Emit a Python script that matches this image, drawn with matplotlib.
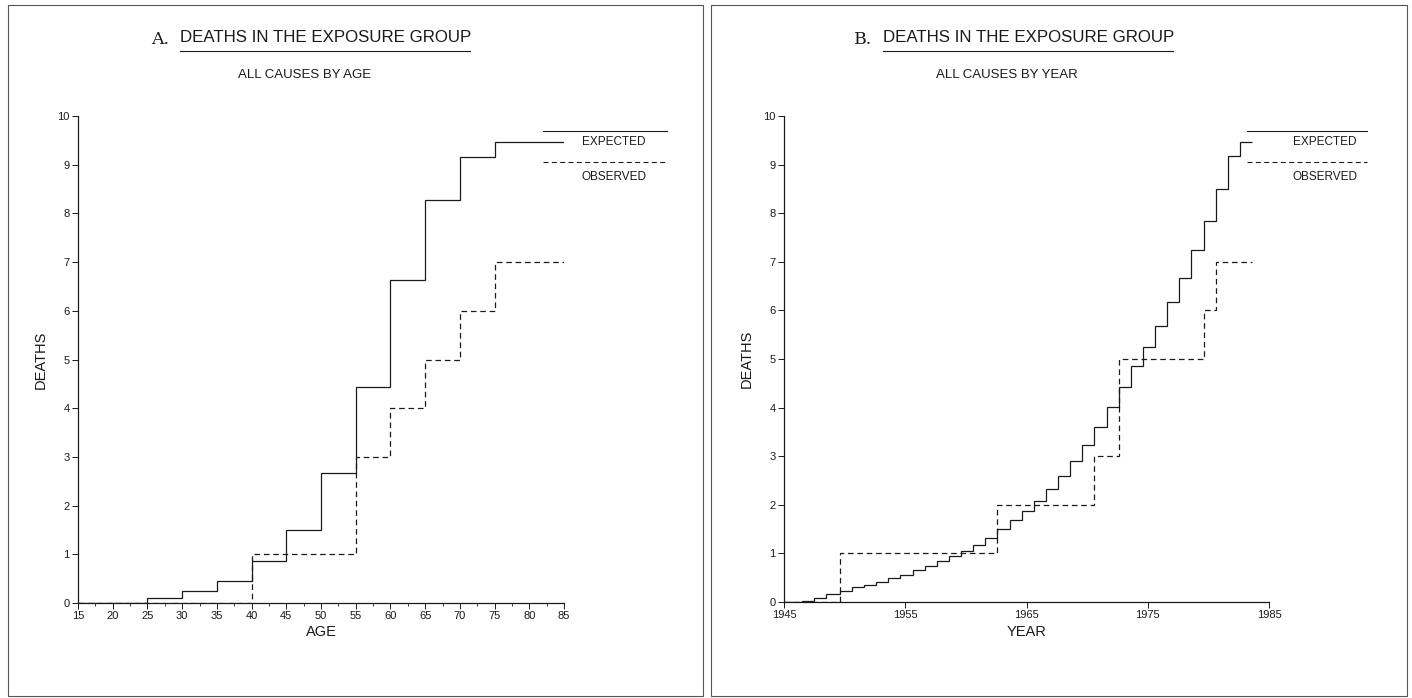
import matplotlib
matplotlib.use("Agg")
import matplotlib.pyplot as plt
from matplotlib.lines import Line2D
from matplotlib.patches import Rectangle
from matplotlib.ticker import MultipleLocator

# panel A: cumulative deaths by age
age_edges = [15, 25, 30, 35, 40, 45, 50, 55, 60, 65, 70, 75, 85]
expected_age = [0, 0.11, 0.25, 0.46, 0.86, 1.50, 2.66, 4.43, 6.64, 8.27, 9.15, 9.47]
observed_age = [0, 0, 0, 0, 1, 1, 1, 3, 4, 5, 6, 7]

# panel B: cumulative deaths by calendar year
year_edges = [1945, 1946.5, 1947.5, 1948.5, 1949.6, 1950.6, 1951.6, 1952.6,
              1953.6, 1954.6, 1955.6, 1956.6, 1957.6, 1958.6, 1959.6, 1960.6,
              1961.6, 1962.6, 1963.6, 1964.6, 1965.6, 1966.6, 1967.6, 1968.6,
              1969.6, 1970.6, 1971.6, 1972.6, 1973.6, 1974.6, 1975.6, 1976.6,
              1977.6, 1978.6, 1979.6, 1980.6, 1981.6, 1982.6, 1983.6]
expected_year = [0, 0.02, 0.08, 0.165, 0.23, 0.30, 0.36, 0.42, 0.50, 0.56,
                 0.65, 0.74, 0.84, 0.94, 1.04, 1.18, 1.32, 1.50, 1.68, 1.87,
                 2.08, 2.33, 2.60, 2.90, 3.24, 3.61, 4.01, 4.42, 4.85, 5.25,
                 5.68, 6.17, 6.67, 7.25, 7.84, 8.50, 9.17, 9.47]
obs_year_edges = [1945, 1949.6, 1962.6, 1970.6, 1972.6, 1979.6, 1980.6, 1983.6]
observed_year = [0, 1, 2, 3, 5, 6, 7]

age_ticks = [15, 20, 25, 30, 35, 40, 45, 50, 55, 60, 65, 70, 75, 80, 85]
year_ticks = [1945, 1955, 1965, 1975, 1985]
y_ticks = list(range(0, 11))

plt.rcParams["font.family"] = ["Liberation Sans", "DejaVu Sans"]
INK = "#1a1a1a"
DASH = (0, (4.5, 3))

fig = plt.figure(figsize=(14.12, 6.98), dpi=100)
W, H = 1412, 698


def fx(px):
    return px / W


def fy(py):
    return 1 - py / H


def setup(ax, xlim, xticks, xlabel):
    ax.set_xlim(*xlim)
    ax.set_ylim(0, 10)
    for s in ["top", "right"]:
        ax.spines[s].set_visible(False)
    for s in ["left", "bottom"]:
        ax.spines[s].set_linewidth(0.9)
        ax.spines[s].set_color(INK)
    ax.set_xticks(xticks)
    ax.set_yticks(y_ticks)
    ax.tick_params(axis="both", length=4, width=0.7, color=INK,
                   labelsize=8, labelcolor=INK, pad=2)
    ax.set_xlabel(xlabel, fontsize=10.5, color=INK, labelpad=3)
    ax.set_ylabel("DEATHS", fontsize=10.5, color=INK, labelpad=7)
    ax.patch.set_alpha(0)


def legend(ax, x0, x1, xt):
    ax.add_line(Line2D([x0, x1], [0.970, 0.970], transform=ax.transAxes,
                       color=INK, lw=0.8, clip_on=False))
    ax.text(xt, 0.946, "EXPECTED", transform=ax.transAxes, ha="center",
            va="center", fontsize=8.5, color=INK)
    ax.add_line(Line2D([x0, x1], [0.905, 0.905], transform=ax.transAxes,
                       color=INK, lw=0.8, ls=DASH, clip_on=False))
    ax.text(xt, 0.874, "OBSERVED", transform=ax.transAxes, ha="center",
            va="center", fontsize=8.5, color=INK)


# panel frames
for x0, x1 in [(8, 703), (711, 1407)]:
    fig.add_artist(Rectangle((fx(x0), fy(696)), fx(x1) - fx(x0), fy(5) - fy(696),
                             transform=fig.transFigure, fill=False,
                             lw=0.8, ec="#555555"))

# panel A
axA = fig.add_axes([fx(78), fy(603), fx(564) - fx(78), fy(116) - fy(603)])
setup(axA, (15, 85), age_ticks, "AGE")
axA.xaxis.set_minor_locator(MultipleLocator(2.5))
axA.tick_params(axis="x", which="minor", length=2, width=0.6, color=INK)
axA.stairs(expected_age, age_edges, baseline=None, color=INK, lw=0.9)
axA.stairs(observed_age, age_edges, baseline=None, color=INK, lw=0.9, ls=DASH)
legend(axA, 0.957, 1.212, 1.103)

# panel B
axB = fig.add_axes([fx(784), fy(602), fx(1269) - fx(784), fy(116) - fy(602)])
setup(axB, (1945, 1985), year_ticks, "YEAR")
axB.stairs(expected_year, year_edges, baseline=None, color=INK, lw=0.9)
axB.stairs(observed_year, obs_year_edges, baseline=None, color=INK, lw=0.9, ls=DASH)
legend(axB, 0.955, 1.202, 1.115)

# titles
for letter, lx, tx, sub, sx in [("A.", 160, 180, "ALL CAUSES BY AGE", 305),
                                ("B.", 863, 883, "ALL CAUSES BY YEAR", 1007)]:
    fig.text(fx(lx), fy(40), letter, ha="center", va="center", fontsize=12.5,
             family="DejaVu Serif", color=INK)
    fig.text(fx(tx), fy(38), "DEATHS IN THE EXPOSURE GROUP", ha="left",
             va="center", fontsize=12.2, color=INK)
    fig.add_artist(Line2D([fx(tx), fx(tx + 290)], [fy(51), fy(51)],
                          transform=fig.transFigure, color=INK, lw=0.8))
    fig.text(fx(sx), fy(75), sub, ha="center", va="center", fontsize=9.5,
             color=INK)

fig.savefig("out.png", dpi=100)
